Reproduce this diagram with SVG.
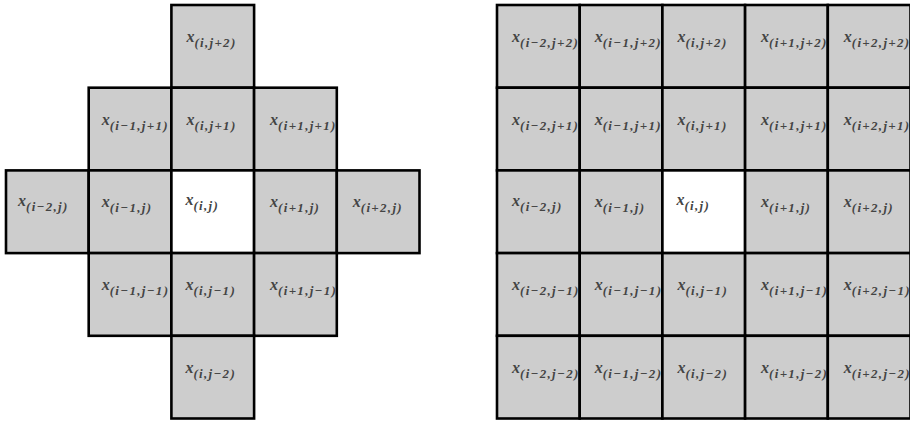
<svg xmlns="http://www.w3.org/2000/svg" width="910" height="422" viewBox="0 0 910 422">
<style>
.bg{fill:#ffffff}
.cell{fill:#cdcdcd;stroke:#000;stroke-width:2.6}
.ctr{fill:#ffffff;stroke:#000;stroke-width:2.6}
.lbl{font-family:"Liberation Serif","Times New Roman",serif;fill:#444444}
.v{font-style:italic;font-weight:bold;font-size:16px}
.s{font-style:italic;font-weight:bold;font-size:13px;letter-spacing:1.3px}
</style>
<defs>
<clipPath id="cc"><rect x="0" y="0" width="82.7" height="82.7"/></clipPath>
</defs>
<rect class="bg" x="0" y="0" width="910" height="422"/>
<g id="left">
<g id="L_i_jp2" transform="translate(171.4,5)"><rect class="cell" width="82.7" height="82.7"/><text class="lbl" x="15" y="37" clip-path="url(#cc)"><tspan class="v">x</tspan><tspan class="s" dy="5">(i,j+2)</tspan></text></g>
<g id="L_im1_jp1" transform="translate(88.7,87.7)"><rect class="cell" width="82.7" height="82.7"/><text class="lbl" x="13" y="37" clip-path="url(#cc)"><tspan class="v">x</tspan><tspan class="s" dy="5">(i−1,j+1)</tspan></text></g>
<g id="L_i_jp1" transform="translate(171.4,87.7)"><rect class="cell" width="82.7" height="82.7"/><text class="lbl" x="15" y="37" clip-path="url(#cc)"><tspan class="v">x</tspan><tspan class="s" dy="5">(i,j+1)</tspan></text></g>
<g id="L_ip1_jp1" transform="translate(254.1,87.7)"><rect class="cell" width="82.7" height="82.7"/><text class="lbl" x="16" y="37" clip-path="url(#cc)"><tspan class="v">x</tspan><tspan class="s" dy="5">(i+1,j+1)</tspan></text></g>
<g id="L_im2_j" transform="translate(6,170.4)"><rect class="cell" width="82.7" height="82.7"/><text class="lbl" x="12" y="36" clip-path="url(#cc)"><tspan class="v">x</tspan><tspan class="s" dy="5">(i−2,j)</tspan></text></g>
<g id="L_im1_j" transform="translate(88.7,170.4)"><rect class="cell" width="82.7" height="82.7"/><text class="lbl" x="13" y="37" clip-path="url(#cc)"><tspan class="v">x</tspan><tspan class="s" dy="5">(i−1,j)</tspan></text></g>
<g id="L_i_j" transform="translate(171.4,170.4)"><rect class="ctr" width="82.7" height="82.7"/><text class="lbl" x="14" y="35" clip-path="url(#cc)"><tspan class="v">x</tspan><tspan class="s" dy="5">(i,j)</tspan></text></g>
<g id="L_ip1_j" transform="translate(254.1,170.4)"><rect class="cell" width="82.7" height="82.7"/><text class="lbl" x="16" y="37" clip-path="url(#cc)"><tspan class="v">x</tspan><tspan class="s" dy="5">(i+1,j)</tspan></text></g>
<g id="L_ip2_j" transform="translate(336.8,170.4)"><rect class="cell" width="82.7" height="82.7"/><text class="lbl" x="16" y="37" clip-path="url(#cc)"><tspan class="v">x</tspan><tspan class="s" dy="5">(i+2,j)</tspan></text></g>
<g id="L_im1_jm1" transform="translate(88.7,253.1)"><rect class="cell" width="82.7" height="82.7"/><text class="lbl" x="13" y="37" clip-path="url(#cc)"><tspan class="v">x</tspan><tspan class="s" dy="5">(i−1,j−1)</tspan></text></g>
<g id="L_i_jm1" transform="translate(171.4,253.1)"><rect class="cell" width="82.7" height="82.7"/><text class="lbl" x="14" y="37" clip-path="url(#cc)"><tspan class="v">x</tspan><tspan class="s" dy="5">(i,j−1)</tspan></text></g>
<g id="L_ip1_jm1" transform="translate(254.1,253.1)"><rect class="cell" width="82.7" height="82.7"/><text class="lbl" x="16" y="37" clip-path="url(#cc)"><tspan class="v">x</tspan><tspan class="s" dy="5">(i+1,j−1)</tspan></text></g>
<g id="L_i_jm2" transform="translate(171.4,335.8)"><rect class="cell" width="82.7" height="82.7"/><text class="lbl" x="14" y="37" clip-path="url(#cc)"><tspan class="v">x</tspan><tspan class="s" dy="5">(i,j−2)</tspan></text></g>
</g>
<g id="right">
<g id="R_im2_jp2" transform="translate(497,5)"><rect class="cell" width="82.7" height="82.7"/><text class="lbl" x="15" y="37" clip-path="url(#cc)"><tspan class="v">x</tspan><tspan class="s" dy="5">(i−2,j+2)</tspan></text></g>
<g id="R_im1_jp2" transform="translate(579.7,5)"><rect class="cell" width="82.7" height="82.7"/><text class="lbl" x="15" y="37" clip-path="url(#cc)"><tspan class="v">x</tspan><tspan class="s" dy="5">(i−1,j+2)</tspan></text></g>
<g id="R_i_jp2" transform="translate(662.4,5)"><rect class="cell" width="82.7" height="82.7"/><text class="lbl" x="15" y="37" clip-path="url(#cc)"><tspan class="v">x</tspan><tspan class="s" dy="5">(i,j+2)</tspan></text></g>
<g id="R_ip1_jp2" transform="translate(745.1,5)"><rect class="cell" width="82.7" height="82.7"/><text class="lbl" x="16" y="37" clip-path="url(#cc)"><tspan class="v">x</tspan><tspan class="s" dy="5">(i+1,j+2)</tspan></text></g>
<g id="R_ip2_jp2" transform="translate(827.8,5)"><rect class="cell" width="82.7" height="82.7"/><text class="lbl" x="16" y="37" clip-path="url(#cc)"><tspan class="v">x</tspan><tspan class="s" dy="5">(i+2,j+2)</tspan></text></g>
<g id="R_im2_jp1" transform="translate(497,87.7)"><rect class="cell" width="82.7" height="82.7"/><text class="lbl" x="15" y="37" clip-path="url(#cc)"><tspan class="v">x</tspan><tspan class="s" dy="5">(i−2,j+1)</tspan></text></g>
<g id="R_im1_jp1" transform="translate(579.7,87.7)"><rect class="cell" width="82.7" height="82.7"/><text class="lbl" x="15" y="37" clip-path="url(#cc)"><tspan class="v">x</tspan><tspan class="s" dy="5">(i−1,j+1)</tspan></text></g>
<g id="R_i_jp1" transform="translate(662.4,87.7)"><rect class="cell" width="82.7" height="82.7"/><text class="lbl" x="15" y="37" clip-path="url(#cc)"><tspan class="v">x</tspan><tspan class="s" dy="5">(i,j+1)</tspan></text></g>
<g id="R_ip1_jp1" transform="translate(745.1,87.7)"><rect class="cell" width="82.7" height="82.7"/><text class="lbl" x="16" y="37" clip-path="url(#cc)"><tspan class="v">x</tspan><tspan class="s" dy="5">(i+1,j+1)</tspan></text></g>
<g id="R_ip2_jp1" transform="translate(827.8,87.7)"><rect class="cell" width="82.7" height="82.7"/><text class="lbl" x="16" y="37" clip-path="url(#cc)"><tspan class="v">x</tspan><tspan class="s" dy="5">(i+2,j+1)</tspan></text></g>
<g id="R_im2_j" transform="translate(497,170.4)"><rect class="cell" width="82.7" height="82.7"/><text class="lbl" x="15" y="36" clip-path="url(#cc)"><tspan class="v">x</tspan><tspan class="s" dy="5">(i−2,j)</tspan></text></g>
<g id="R_im1_j" transform="translate(579.7,170.4)"><rect class="cell" width="82.7" height="82.7"/><text class="lbl" x="15" y="37" clip-path="url(#cc)"><tspan class="v">x</tspan><tspan class="s" dy="5">(i−1,j)</tspan></text></g>
<g id="R_i_j" transform="translate(662.4,170.4)"><rect class="ctr" width="82.7" height="82.7"/><text class="lbl" x="14" y="35" clip-path="url(#cc)"><tspan class="v">x</tspan><tspan class="s" dy="5">(i,j)</tspan></text></g>
<g id="R_ip1_j" transform="translate(745.1,170.4)"><rect class="cell" width="82.7" height="82.7"/><text class="lbl" x="16" y="37" clip-path="url(#cc)"><tspan class="v">x</tspan><tspan class="s" dy="5">(i+1,j)</tspan></text></g>
<g id="R_ip2_j" transform="translate(827.8,170.4)"><rect class="cell" width="82.7" height="82.7"/><text class="lbl" x="16" y="37" clip-path="url(#cc)"><tspan class="v">x</tspan><tspan class="s" dy="5">(i+2,j)</tspan></text></g>
<g id="R_im2_jm1" transform="translate(497,253.1)"><rect class="cell" width="82.7" height="82.7"/><text class="lbl" x="15" y="37" clip-path="url(#cc)"><tspan class="v">x</tspan><tspan class="s" dy="5">(i−2,j−1)</tspan></text></g>
<g id="R_im1_jm1" transform="translate(579.7,253.1)"><rect class="cell" width="82.7" height="82.7"/><text class="lbl" x="15" y="37" clip-path="url(#cc)"><tspan class="v">x</tspan><tspan class="s" dy="5">(i−1,j−1)</tspan></text></g>
<g id="R_i_jm1" transform="translate(662.4,253.1)"><rect class="cell" width="82.7" height="82.7"/><text class="lbl" x="15" y="37" clip-path="url(#cc)"><tspan class="v">x</tspan><tspan class="s" dy="5">(i,j−1)</tspan></text></g>
<g id="R_ip1_jm1" transform="translate(745.1,253.1)"><rect class="cell" width="82.7" height="82.7"/><text class="lbl" x="16" y="37" clip-path="url(#cc)"><tspan class="v">x</tspan><tspan class="s" dy="5">(i+1,j−1)</tspan></text></g>
<g id="R_ip2_jm1" transform="translate(827.8,253.1)"><rect class="cell" width="82.7" height="82.7"/><text class="lbl" x="16" y="37" clip-path="url(#cc)"><tspan class="v">x</tspan><tspan class="s" dy="5">(i+2,j−1)</tspan></text></g>
<g id="R_im2_jm2" transform="translate(497,335.8)"><rect class="cell" width="82.7" height="82.7"/><text class="lbl" x="15" y="37" clip-path="url(#cc)"><tspan class="v">x</tspan><tspan class="s" dy="5">(i−2,j−2)</tspan></text></g>
<g id="R_im1_jm2" transform="translate(579.7,335.8)"><rect class="cell" width="82.7" height="82.7"/><text class="lbl" x="15" y="37" clip-path="url(#cc)"><tspan class="v">x</tspan><tspan class="s" dy="5">(i−1,j−2)</tspan></text></g>
<g id="R_i_jm2" transform="translate(662.4,335.8)"><rect class="cell" width="82.7" height="82.7"/><text class="lbl" x="15" y="37" clip-path="url(#cc)"><tspan class="v">x</tspan><tspan class="s" dy="5">(i,j−2)</tspan></text></g>
<g id="R_ip1_jm2" transform="translate(745.1,335.8)"><rect class="cell" width="82.7" height="82.7"/><text class="lbl" x="16" y="37" clip-path="url(#cc)"><tspan class="v">x</tspan><tspan class="s" dy="5">(i+1,j−2)</tspan></text></g>
<g id="R_ip2_jm2" transform="translate(827.8,335.8)"><rect class="cell" width="82.7" height="82.7"/><text class="lbl" x="16" y="37" clip-path="url(#cc)"><tspan class="v">x</tspan><tspan class="s" dy="5">(i+2,j−2)</tspan></text></g>
</g>
</svg>
